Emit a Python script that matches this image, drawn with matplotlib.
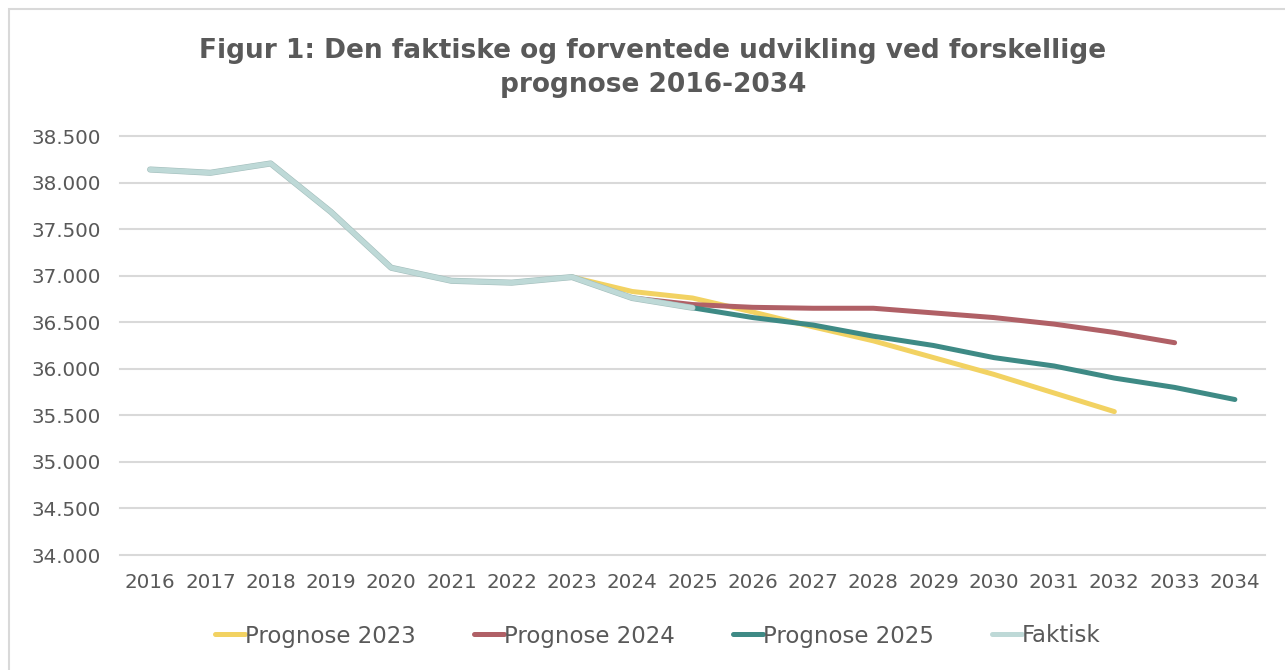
import matplotlib.pyplot as plt
import matplotlib.patheffects as pe
from matplotlib.patches import Rectangle
from matplotlib.ticker import FuncFormatter

years = list(range(2016, 2035))

faktisk_years = list(range(2016, 2026))
faktisk = [38140, 38105, 38205, 37685, 37085, 36945, 36925, 36985, 36760, 36655]

p2023_years = list(range(2023, 2033))
p2023 = [36985, 36830, 36760, 36610, 36450, 36300, 36120, 35940, 35740, 35540]

p2024_years = list(range(2024, 2034))
p2024 = [36760, 36690, 36660, 36650, 36650, 36600, 36550, 36480, 36390, 36280]

p2025_years = list(range(2025, 2035))
p2025 = [36655, 36550, 36470, 36350, 36250, 36120, 36030, 35900, 35800, 35670]

title = "Figur 1: Den faktiske og forventede udvikling ved forskellige\nprognose 2016-2034"

grey = "#595959"
plt.rcParams['font.family'] = ['DejaVu Sans']

fig = plt.figure(figsize=(12.85, 6.70), dpi=100)
ax = fig.add_axes([120 / 1285, 1 - 555 / 670, (1265 - 120) / 1285, (555 - 136) / 670])

series = [
    ("Prognose 2023", p2023_years, p2023, "#F2D262"),
    ("Prognose 2024", p2024_years, p2024, "#B06066"),
    ("Prognose 2025", p2025_years, p2025, "#3E8A85"),
    ("Faktisk", faktisk_years, faktisk, "#BED9D7"),
]
for name, xs, ys, col in series:
    idx = [years.index(y) for y in xs]
    line, = ax.plot(idx, ys, color=col, lw=3.6, solid_capstyle='round',
                    solid_joinstyle='round', label=name)
    if name == "Faktisk":
        # faint darker rim like the original
        line.set_path_effects([pe.Stroke(linewidth=4.4, foreground="#A3BEBC"), pe.Normal()])

ax.set_xlim(-0.5, len(years) - 0.5)
ax.set_ylim(34000, 38500)
ax.set_yticks(range(34000, 38501, 500))
ax.yaxis.set_major_formatter(FuncFormatter(lambda v, p: f"{int(v):,}".replace(",", ".")))
ax.set_xticks(range(len(years)))
ax.set_xticklabels([str(y) for y in years])
ax.tick_params(length=0, labelsize=14.3, colors=grey)
ax.tick_params(axis='x', pad=13)
ax.tick_params(axis='y', pad=14)
ax.grid(axis='y', color="#D9D9D9", lw=1.5)
for g in ax.get_ygridlines():
    g.set_clip_on(False)
ax.set_axisbelow(True)
for s in ax.spines.values():
    s.set_visible(False)

fig.text(0.508, 1 - 68 / 670, title, ha='center', va='center', fontsize=19,
         fontweight='bold', color=grey, linespacing=1.4)

leg = ax.legend(loc='center', bbox_to_anchor=(0.5 + (658 - 692.5) / 1145, (555 - 636) / 419),
                ncol=4, frameon=False, fontsize=16.5, handlelength=1.3,
                handletextpad=0.0, columnspacing=2.55)
for t in leg.get_texts():
    t.set_color(grey)
for h in leg.get_lines():
    h.set_path_effects([])
    h.set_linewidth(3.6)

fig.patches.append(Rectangle((9 / 1285, -0.1), 1.2, 1 - 9 / 670 + 0.1,
                             transform=fig.transFigure, fill=False,
                             edgecolor="#D9D9D9", lw=1.5))

fig.savefig("out.png", dpi=100)
